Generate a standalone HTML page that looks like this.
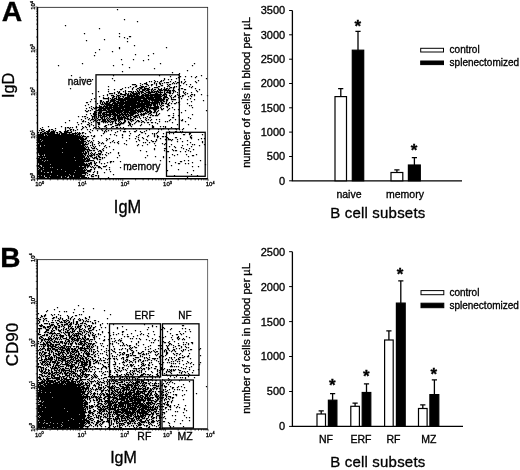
<!DOCTYPE html>
<html><head><meta charset="utf-8"><title>Figure</title>
<style>html,body{margin:0;padding:0;background:#fff}svg{display:block}</style>
</head><body>
<svg width="520" height="470" viewBox="0 0 520 470" font-family='"Liberation Sans", Arial, Helvetica, sans-serif' fill="#000" stroke="#000" stroke-width="0.32"><rect width="520" height="470" fill="#fff" stroke="none"/><defs><filter id="soft" x="0" y="0" width="520" height="470" filterUnits="userSpaceOnUse"><feGaussianBlur stdDeviation="0.55"/></filter></defs><path d="M117 9h1.25M124 19h1.25M137 21h1.25M65 25h1.25M99 28h1.25M84 33h1.25M119 33h1.25M119 36h1.25M129 36h2.25M124 37h1.25M127 38h1.25M104 39h1.25M86 40h1.25M127 41h1.25M134 45h1.25M119 47h1.25M166 47h1.25M119 48h1.25M99 49h1.25M112 51h1.25M95 52h1.25M153 53h1.25M135 54h1.25M94 55h1.25M148 55h1.25M121 59h1.25M133 59h1.25M148 59h1.25M143 60h1.25M82 63h1.25M160 63h1.25M194 63h1.25M122 64h1.25M58 65h1.25M113 65h1.25M192 65h1.25M129 67h1.25M154 68h1.25M187 70h1.25M122 71h1.25M172 72h1.25M179 73h1.25M178 74h1.25M71 75h1.25M113 75h1.25M159 75h1.25M201 75h1.25M170 76h1.25M180 76h1.25M185 76h1.25M191 76h1.25M196 76h1.25M178 77h1.25M195 77h1.25M112 78h1.25M164 78h1.25M176 78h1.25M206 78h1.25M83 79h1.25M92 79h1.25M164 79h1.25M168 79h1.25M171 79h1.25M184 79h1.25M114 80h1.25M154 80h1.25M161 80h1.25M163 80h1.25M198 80h1.25M149 81h1.25M151 81h1.25M155 81h1.25M157 81h1.25M160 81h2.25M170 81h1.25M175 81h1.25M181 81h1.25M185 81h1.25M195 81h1.25M146 82h1.25M154 82h1.25M159 82h1.25M164 82h1.25M166 82h3.25M173 82h1.25M177 82h2.25M181 82h1.25M184 82h1.25M196 82h1.25M140 83h1.25M144 83h3.25M154 83h1.25M156 83h1.25M159 83h2.25M162 83h1.25M172 83h1.25M174 83h1.25M176 83h1.25M183 83h1.25M132 84h4.25M142 84h1.25M146 84h2.25M151 84h2.25M156 84h1.25M160 84h1.25M167 84h1.25M169 84h2.25M186 84h1.25M190 84h1.25M136 85h1.25M140 85h1.25M148 85h1.25M151 85h1.25M156 85h1.25M161 85h2.25M168 85h1.25M180 85h1.25M108 86h1.25M130 86h1.25M135 86h2.25M141 86h3.25M145 86h2.25M158 86h2.25M167 86h1.25M169 86h1.25M174 86h1.25M176 86h1.25M189 86h1.25M192 86h1.25M125 87h1.25M128 87h1.25M133 87h1.25M139 87h4.25M144 87h1.25M149 87h1.25M154 87h4.25M164 87h1.25M170 87h2.25M173 87h2.25M191 87h1.25M70 88h1.25M122 88h1.25M132 88h1.25M137 88h2.25M140 88h2.25M144 88h5.25M152 88h1.25M158 88h1.25M161 88h1.25M164 88h1.25M166 88h2.25M169 88h1.25M173 88h1.25M179 88h1.25M181 88h2.25M195 88h1.25M108 89h1.25M114 89h1.25M120 89h2.25M132 89h1.25M136 89h1.25M139 89h1.25M142 89h4.25M147 89h3.25M151 89h2.25M154 89h2.25M158 89h4.25M163 89h4.25M168 89h1.25M173 89h1.25M178 89h1.25M184 89h2.25M199 89h1.25M125 90h1.25M137 90h1.25M139 90h1.25M142 90h3.25M146 90h3.25M151 90h1.25M153 90h1.25M157 90h1.25M159 90h4.25M164 90h7.25M172 90h3.25M179 90h1.25M196 90h1.25M98 91h1.25M108 91h1.25M117 91h1.25M119 91h1.25M123 91h1.25M125 91h1.25M128 91h4.25M133 91h1.25M135 91h1.25M137 91h2.25M140 91h3.25M145 91h1.25M148 91h2.25M151 91h2.25M154 91h5.25M160 91h1.25M164 91h1.25M167 91h1.25M169 91h2.25M173 91h1.25M175 91h1.25M183 91h1.25M197 91h1.25M114 92h1.25M118 92h2.25M125 92h1.25M131 92h3.25M136 92h1.25M138 92h2.25M141 92h3.25M146 92h9.25M156 92h1.25M158 92h5.25M164 92h1.25M166 92h5.25M173 92h1.25M177 92h1.25M183 92h1.25M185 92h1.25M191 92h1.25M92 93h1.25M109 93h4.25M114 93h1.25M118 93h1.25M120 93h2.25M125 93h2.25M128 93h1.25M130 93h1.25M132 93h8.25M141 93h1.25M144 93h2.25M148 93h3.25M155 93h3.25M160 93h1.25M164 93h2.25M169 93h2.25M172 93h1.25M184 93h1.25M187 93h1.25M107 94h1.25M116 94h1.25M120 94h6.25M127 94h2.25M130 94h2.25M133 94h5.25M139 94h1.25M142 94h2.25M145 94h4.25M150 94h12.25M163 94h4.25M177 94h1.25M179 94h1.25M185 94h1.25M191 94h2.25M194 94h1.25M201 94h1.25M103 95h1.25M107 95h1.25M111 95h3.25M117 95h3.25M124 95h2.25M127 95h8.25M136 95h3.25M141 95h20.25M162 95h3.25M166 95h1.25M169 95h1.25M171 95h1.25M175 95h1.25M178 95h1.25M182 95h2.25M190 95h1.25M194 95h1.25M207 95h1.25M99 96h1.25M113 96h2.25M116 96h1.25M118 96h1.25M120 96h1.25M122 96h2.25M127 96h17.25M145 96h4.25M150 96h3.25M154 96h8.25M164 96h3.25M170 96h1.25M174 96h2.25M180 96h1.25M182 96h1.25M188 96h1.25M191 96h1.25M103 97h1.25M108 97h1.25M112 97h2.25M116 97h1.25M118 97h2.25M123 97h1.25M125 97h5.25M131 97h2.25M134 97h11.25M146 97h15.25M163 97h5.25M171 97h1.25M173 97h1.25M178 97h1.25M94 98h1.25M103 98h6.25M110 98h1.25M112 98h1.25M114 98h3.25M118 98h5.25M124 98h30.25M155 98h7.25M163 98h2.25M168 98h1.25M171 98h1.25M181 98h1.25M190 98h1.25M91 99h1.25M108 99h1.25M111 99h4.25M116 99h25.25M143 99h4.25M148 99h17.25M166 99h2.25M171 99h5.25M187 99h1.25M194 99h1.25M100 100h2.25M108 100h1.25M110 100h6.25M118 100h8.25M127 100h21.25M149 100h1.25M151 100h13.25M166 100h2.25M203 100h1.25M90 101h1.25M95 101h1.25M100 101h2.25M103 101h1.25M106 101h3.25M110 101h5.25M116 101h3.25M120 101h4.25M125 101h12.25M138 101h12.25M152 101h1.25M154 101h5.25M160 101h2.25M163 101h2.25M166 101h1.25M172 101h1.25M179 101h1.25M191 101h1.25M86 102h2.25M100 102h1.25M102 102h1.25M104 102h1.25M106 102h2.25M109 102h2.25M113 102h3.25M117 102h23.25M141 102h2.25M144 102h16.25M161 102h2.25M166 102h1.25M169 102h1.25M176 102h1.25M178 102h1.25M97 103h1.25M100 103h1.25M102 103h1.25M104 103h6.25M112 103h38.25M151 103h7.25M159 103h1.25M161 103h3.25M165 103h2.25M168 103h1.25M171 103h1.25M174 103h2.25M187 103h1.25M88 104h1.25M101 104h3.25M105 104h8.25M114 104h4.25M119 104h5.25M125 104h11.25M137 104h15.25M153 104h3.25M157 104h1.25M159 104h1.25M161 104h1.25M167 104h2.25M179 104h1.25M85 105h1.25M99 105h1.25M104 105h1.25M106 105h17.25M124 105h21.25M146 105h6.25M153 105h3.25M157 105h1.25M160 105h1.25M162 105h2.25M168 105h2.25M189 105h1.25M191 105h1.25M91 106h1.25M96 106h1.25M99 106h3.25M103 106h5.25M109 106h3.25M113 106h5.25M119 106h11.25M131 106h18.25M150 106h1.25M154 106h5.25M161 106h1.25M166 106h2.25M89 107h1.25M93 107h1.25M95 107h9.25M105 107h35.25M141 107h4.25M146 107h13.25M160 107h1.25M167 107h1.25M172 107h1.25M192 107h1.25M86 108h1.25M91 108h1.25M94 108h3.25M99 108h13.25M113 108h11.25M125 108h11.25M137 108h1.25M140 108h6.25M147 108h1.25M149 108h10.25M161 108h1.25M163 108h1.25M169 108h1.25M92 109h1.25M98 109h4.25M103 109h3.25M107 109h3.25M111 109h10.25M122 109h12.25M135 109h2.25M138 109h5.25M144 109h4.25M149 109h1.25M153 109h4.25M161 109h2.25M168 109h1.25M174 109h1.25M178 109h1.25M85 110h1.25M88 110h1.25M90 110h1.25M96 110h11.25M108 110h35.25M144 110h4.25M149 110h2.25M154 110h2.25M158 110h1.25M167 110h1.25M185 110h1.25M206 110h1.25M86 111h2.25M94 111h2.25M99 111h3.25M106 111h17.25M124 111h5.25M130 111h6.25M137 111h7.25M146 111h6.25M154 111h2.25M157 111h1.25M94 112h3.25M98 112h4.25M103 112h12.25M116 112h6.25M123 112h14.25M138 112h1.25M140 112h1.25M145 112h1.25M147 112h2.25M150 112h2.25M153 112h2.25M156 112h1.25M181 112h1.25M90 113h1.25M93 113h3.25M98 113h3.25M102 113h3.25M106 113h1.25M109 113h2.25M112 113h4.25M117 113h3.25M121 113h2.25M124 113h2.25M127 113h1.25M129 113h7.25M137 113h1.25M141 113h1.25M143 113h4.25M149 113h2.25M156 113h1.25M159 113h1.25M173 113h1.25M86 114h1.25M93 114h4.25M98 114h1.25M100 114h1.25M102 114h16.25M119 114h10.25M130 114h4.25M138 114h1.25M140 114h5.25M148 114h1.25M151 114h1.25M156 114h1.25M158 114h1.25M192 114h1.25M91 115h1.25M94 115h2.25M98 115h4.25M103 115h2.25M106 115h5.25M113 115h8.25M122 115h2.25M125 115h2.25M128 115h5.25M135 115h4.25M141 115h1.25M143 115h1.25M150 115h1.25M152 115h2.25M155 115h3.25M168 115h2.25M173 115h1.25M178 115h1.25M78 116h1.25M82 116h1.25M84 116h2.25M92 116h3.25M96 116h1.25M98 116h1.25M100 116h1.25M102 116h5.25M109 116h2.25M112 116h1.25M114 116h2.25M117 116h3.25M121 116h1.25M123 116h2.25M126 116h3.25M130 116h1.25M133 116h4.25M139 116h1.25M147 116h1.25M87 117h1.25M92 117h1.25M94 117h1.25M96 117h1.25M98 117h1.25M100 117h3.25M104 117h1.25M107 117h1.25M109 117h1.25M113 117h3.25M117 117h9.25M127 117h1.25M130 117h2.25M134 117h2.25M137 117h1.25M139 117h1.25M143 117h1.25M145 117h1.25M149 117h2.25M172 117h2.25M188 117h1.25M85 118h1.25M89 118h1.25M92 118h1.25M94 118h1.25M97 118h1.25M101 118h2.25M104 118h1.25M106 118h1.25M108 118h1.25M110 118h6.25M117 118h6.25M124 118h5.25M130 118h1.25M133 118h1.25M140 118h1.25M146 118h1.25M190 118h1.25M81 119h1.25M88 119h1.25M91 119h3.25M95 119h1.25M98 119h3.25M102 119h4.25M107 119h1.25M109 119h1.25M111 119h6.25M118 119h5.25M124 119h1.25M127 119h6.25M135 119h1.25M145 119h1.25M148 119h1.25M151 119h1.25M156 119h1.25M159 119h1.25M170 119h1.25M175 119h1.25M179 119h1.25M182 119h1.25M69 120h1.25M83 120h1.25M90 120h1.25M94 120h2.25M97 120h1.25M99 120h1.25M102 120h4.25M107 120h2.25M110 120h1.25M114 120h3.25M118 120h2.25M124 120h2.25M130 120h1.25M132 120h2.25M137 120h2.25M141 120h1.25M146 120h1.25M150 120h1.25M169 120h1.25M181 120h2.25M82 121h2.25M85 121h1.25M93 121h1.25M96 121h1.25M101 121h6.25M108 121h2.25M111 121h3.25M115 121h1.25M118 121h1.25M120 121h1.25M124 121h2.25M128 121h1.25M131 121h1.25M136 121h1.25M138 121h2.25M142 121h2.25M159 121h1.25M165 121h1.25M167 121h1.25M185 121h1.25M65 122h1.25M77 122h1.25M88 122h1.25M91 122h1.25M97 122h3.25M103 122h1.25M105 122h1.25M107 122h1.25M110 122h1.25M112 122h1.25M115 122h1.25M119 122h1.25M121 122h1.25M123 122h2.25M128 122h2.25M135 122h1.25M141 122h1.25M144 122h1.25M147 122h2.25M151 122h2.25M155 122h1.25M172 122h1.25M81 123h1.25M89 123h1.25M98 123h2.25M112 123h1.25M115 123h2.25M118 123h1.25M120 123h4.25M129 123h2.25M134 123h1.25M157 123h1.25M78 124h1.25M87 124h2.25M91 124h1.25M98 124h2.25M108 124h1.25M110 124h2.25M117 124h4.25M129 124h2.25M132 124h1.25M141 124h1.25M149 124h1.25M177 124h1.25M188 124h1.25M89 125h1.25M93 125h1.25M105 125h2.25M115 125h3.25M119 125h1.25M128 125h1.25M130 125h1.25M140 125h1.25M152 125h1.25M48 126h1.25M61 126h1.25M76 126h1.25M82 126h1.25M85 126h1.25M89 126h1.25M98 126h1.25M104 126h2.25M112 126h2.25M131 126h1.25M152 126h2.25M160 126h1.25M163 126h1.25M165 126h1.25M42 127h1.25M65 127h1.25M67 127h2.25M70 127h1.25M72 127h1.25M76 127h1.25M83 127h1.25M86 127h1.25M94 127h2.25M99 127h1.25M106 127h1.25M111 127h1.25M116 127h2.25M120 127h1.25M123 127h1.25M152 127h2.25M165 127h1.25M171 127h1.25M40 128h1.25M55 128h1.25M65 128h1.25M69 128h1.25M82 128h1.25M93 128h1.25M102 128h1.25M125 128h1.25M133 128h1.25M135 128h1.25M139 128h1.25M163 128h1.25M175 128h1.25M183 128h1.25M195 128h1.25M41 129h3.25M49 129h1.25M51 129h2.25M65 129h1.25M70 129h2.25M73 129h1.25M77 129h1.25M81 129h1.25M87 129h1.25M90 129h1.25M101 129h1.25M106 129h1.25M124 129h1.25M149 129h1.25M158 129h1.25M161 129h1.25M168 129h1.25M176 129h1.25M179 129h1.25M182 129h1.25M39 130h1.25M41 130h1.25M44 130h1.25M48 130h2.25M53 130h1.25M55 130h1.25M65 130h1.25M67 130h2.25M70 130h1.25M73 130h1.25M75 130h1.25M92 130h1.25M97 130h1.25M102 130h1.25M105 130h1.25M108 130h1.25M111 130h1.25M120 130h1.25M136 130h1.25M146 130h1.25M42 131h2.25M46 131h4.25M51 131h4.25M59 131h2.25M64 131h4.25M71 131h1.25M89 131h1.25M104 131h1.25M106 131h1.25M117 131h1.25M123 131h3.25M129 131h1.25M134 131h2.25M140 131h1.25M144 131h1.25M158 131h1.25M169 131h1.25M175 131h2.25M180 131h1.25M182 131h1.25M38 132h1.25M40 132h2.25M44 132h2.25M47 132h2.25M50 132h5.25M56 132h2.25M60 132h2.25M64 132h8.25M75 132h1.25M77 132h1.25M79 132h1.25M82 132h2.25M90 132h1.25M104 132h1.25M115 132h1.25M141 132h2.25M157 132h1.25M171 132h1.25M181 132h1.25M185 132h1.25M40 133h1.25M42 133h13.25M57 133h1.25M59 133h1.25M61 133h6.25M69 133h1.25M72 133h5.25M78 133h3.25M82 133h1.25M85 133h1.25M103 133h1.25M130 133h1.25M145 133h1.25M152 133h1.25M154 133h1.25M156 133h1.25M163 133h1.25M169 133h1.25M173 133h1.25M189 133h2.25M38 134h6.25M45 134h1.25M47 134h13.25M61 134h13.25M75 134h1.25M77 134h3.25M110 134h1.25M114 134h1.25M122 134h1.25M139 134h1.25M154 134h1.25M183 134h2.25M189 134h1.25M202 134h1.25M38 135h6.25M45 135h2.25M48 135h30.25M79 135h1.25M81 135h1.25M83 135h1.25M91 135h1.25M94 135h1.25M101 135h1.25M116 135h1.25M122 135h1.25M129 135h1.25M138 135h1.25M148 135h1.25M154 135h1.25M157 135h1.25M191 135h1.25M38 136h43.25M82 136h4.25M87 136h2.25M93 136h2.25M136 136h1.25M147 136h1.25M154 136h1.25M157 136h2.25M162 136h2.25M165 136h1.25M190 136h1.25M38 137h45.25M86 137h1.25M122 137h1.25M138 137h1.25M142 137h1.25M157 137h1.25M167 137h1.25M175 137h2.25M190 137h2.25M38 138h46.25M85 138h2.25M92 138h1.25M106 138h1.25M109 138h1.25M129 138h1.25M135 138h1.25M143 138h1.25M160 138h1.25M166 138h1.25M168 138h1.25M180 138h1.25M191 138h1.25M201 138h1.25M204 138h1.25M38 139h2.25M41 139h38.25M80 139h6.25M107 139h1.25M138 139h1.25M146 139h1.25M156 139h1.25M165 139h2.25M168 139h3.25M172 139h1.25M177 139h1.25M198 139h1.25M38 140h4.25M43 140h37.25M81 140h3.25M87 140h1.25M89 140h1.25M93 140h1.25M106 140h1.25M113 140h1.25M126 140h1.25M139 140h1.25M147 140h1.25M151 140h1.25M156 140h1.25M166 140h1.25M171 140h1.25M187 140h1.25M38 141h3.25M42 141h44.25M88 141h1.25M91 141h1.25M98 141h1.25M112 141h1.25M118 141h1.25M136 141h1.25M152 141h2.25M155 141h1.25M177 141h1.25M182 141h1.25M202 141h1.25M38 142h28.25M67 142h17.25M86 142h1.25M90 142h1.25M92 142h1.25M99 142h1.25M102 142h1.25M110 142h1.25M114 142h1.25M117 142h1.25M143 142h1.25M145 142h1.25M149 142h1.25M190 142h1.25M202 142h1.25M39 143h45.25M85 143h1.25M88 143h1.25M92 143h1.25M98 143h1.25M101 143h1.25M103 143h1.25M118 143h1.25M124 143h1.25M154 143h1.25M162 143h1.25M165 143h1.25M38 144h43.25M82 144h6.25M92 144h1.25M94 144h1.25M126 144h1.25M138 144h1.25M147 144h1.25M164 144h1.25M171 144h1.25M187 144h1.25M192 144h1.25M194 144h1.25M204 144h1.25M38 145h2.25M41 145h3.25M45 145h40.25M90 145h1.25M92 145h1.25M99 145h1.25M105 145h1.25M137 145h1.25M142 145h1.25M155 145h1.25M182 145h1.25M199 145h1.25M38 146h2.25M41 146h43.25M85 146h1.25M87 146h1.25M93 146h1.25M95 146h1.25M104 146h1.25M109 146h1.25M169 146h1.25M174 146h1.25M191 146h1.25M38 147h47.25M86 147h1.25M88 147h1.25M91 147h1.25M94 147h1.25M106 147h1.25M175 147h1.25M181 147h1.25M38 148h24.25M63 148h23.25M88 148h1.25M92 148h3.25M96 148h1.25M103 148h1.25M154 148h1.25M164 148h2.25M183 148h1.25M189 148h1.25M38 149h52.25M97 149h1.25M102 149h1.25M113 149h1.25M154 149h1.25M172 149h1.25M186 149h1.25M193 149h1.25M38 150h47.25M87 150h1.25M89 150h3.25M93 150h2.25M99 150h2.25M103 150h1.25M140 150h1.25M164 150h1.25M173 150h1.25M175 150h2.25M188 150h1.25M38 151h46.25M85 151h1.25M87 151h2.25M98 151h1.25M100 151h2.25M146 151h1.25M166 151h3.25M180 151h1.25M185 151h1.25M190 151h1.25M38 152h24.25M63 152h19.25M83 152h1.25M85 152h2.25M88 152h1.25M91 152h1.25M95 152h1.25M101 152h1.25M106 152h1.25M110 152h1.25M118 152h1.25M39 153h48.25M88 153h1.25M90 153h1.25M92 153h1.25M94 153h1.25M98 153h3.25M108 153h1.25M118 153h1.25M39 154h5.25M45 154h38.25M84 154h2.25M88 154h1.25M91 154h1.25M93 154h2.25M96 154h2.25M99 154h2.25M102 154h1.25M105 154h1.25M172 154h1.25M177 154h1.25M186 154h1.25M196 154h1.25M40 155h2.25M43 155h1.25M45 155h39.25M85 155h1.25M87 155h1.25M89 155h4.25M94 155h1.25M98 155h1.25M106 155h1.25M119 155h1.25M147 155h1.25M174 155h1.25M192 155h2.25M38 156h47.25M87 156h2.25M90 156h2.25M96 156h1.25M98 156h2.25M155 156h1.25M163 156h1.25M188 156h1.25M39 157h4.25M44 157h1.25M46 157h28.25M75 157h10.25M86 157h1.25M88 157h1.25M92 157h1.25M94 157h3.25M99 157h2.25M102 157h1.25M104 157h1.25M117 157h1.25M145 157h1.25M163 157h1.25M169 157h1.25M38 158h2.25M41 158h42.25M84 158h4.25M89 158h1.25M93 158h2.25M96 158h2.25M102 158h1.25M38 159h48.25M87 159h3.25M97 159h1.25M99 159h2.25M38 160h4.25M43 160h2.25M46 160h1.25M48 160h27.25M76 160h9.25M86 160h8.25M160 160h1.25M184 160h1.25M188 160h1.25M200 160h1.25M38 161h6.25M45 161h44.25M94 161h1.25M99 161h1.25M110 161h2.25M113 161h1.25M120 161h1.25M169 161h1.25M180 161h2.25M38 162h46.25M90 162h2.25M94 162h1.25M96 162h1.25M99 162h1.25M107 162h1.25M110 162h1.25M175 162h1.25M192 162h1.25M39 163h46.25M86 163h1.25M88 163h4.25M94 163h2.25M101 163h1.25M104 163h1.25M178 163h2.25M185 163h1.25M188 163h1.25M39 164h11.25M51 164h37.25M89 164h1.25M91 164h1.25M95 164h1.25M205 164h1.25M38 165h2.25M42 165h48.25M94 165h1.25M96 165h2.25M106 165h1.25M171 165h1.25M38 166h3.25M42 166h37.25M80 166h2.25M84 166h2.25M87 166h2.25M90 166h1.25M92 166h1.25M98 166h2.25M103 166h3.25M192 166h1.25M198 166h1.25M39 167h4.25M44 167h6.25M51 167h1.25M53 167h33.25M87 167h1.25M91 167h1.25M93 167h1.25M95 167h1.25M98 167h3.25M109 167h1.25M120 167h1.25M38 168h1.25M40 168h44.25M85 168h1.25M94 168h1.25M101 168h1.25M130 168h1.25M39 169h4.25M44 169h13.25M58 169h3.25M62 169h21.25M84 169h1.25M86 169h1.25M90 169h2.25M94 169h1.25M106 169h1.25M109 169h1.25M129 169h1.25M178 169h1.25M38 170h3.25M42 170h33.25M76 170h10.25M87 170h4.25M167 170h1.25M193 170h1.25M38 171h3.25M42 171h9.25M52 171h13.25M66 171h19.25M87 171h4.25M94 171h1.25M97 171h1.25M110 171h1.25M38 172h6.25M45 172h2.25M49 172h2.25M52 172h22.25M75 172h12.25M93 172h1.25M97 172h1.25M104 172h1.25M187 172h1.25M38 173h48.25M87 173h1.25M97 173h1.25M38 174h31.25M70 174h12.25M85 174h1.25M89 174h1.25M92 174h2.25M113 174h1.25M191 174h1.25M39 175h2.25M42 175h2.25M45 175h5.25M51 175h6.25M58 175h12.25M71 175h2.25M74 175h11.25M87 175h1.25M91 175h1.25M95 175h2.25M98 175h1.25M174 175h1.25M197 175h1.25M38 176h6.25M45 176h16.25M62 176h3.25M66 176h2.25M69 176h4.25M74 176h11.25M91 176h3.25M98 176h1.25M39 177h6.25M47 177h2.25M50 177h11.25M62 177h5.25M69 177h11.25M81 177h6.25M88 177h1.25M98 177h1.25M108 177h1.25M187 177h1.25M78 305h1.25M57 307h1.25M83 308h1.25M93 308h1.25M54 309h1.25M74 309h1.25M47 310h1.25M104 310h1.25M46 311h1.25M59 311h1.25M64 311h1.25M66 311h1.25M83 311h1.25M73 312h1.25M38 313h1.25M45 314h1.25M51 314h1.25M54 314h1.25M58 314h1.25M79 314h1.25M81 314h1.25M110 314h1.25M41 315h1.25M44 315h2.25M52 315h1.25M60 315h1.25M67 315h1.25M75 315h2.25M41 316h2.25M44 316h1.25M56 316h1.25M68 316h1.25M72 316h1.25M89 316h1.25M40 317h1.25M53 317h2.25M56 317h1.25M60 317h1.25M68 317h1.25M71 317h1.25M85 317h1.25M89 317h1.25M38 318h1.25M43 318h1.25M45 318h2.25M52 318h2.25M58 318h1.25M60 318h1.25M62 318h1.25M68 318h1.25M70 318h1.25M74 318h1.25M79 318h1.25M85 318h2.25M107 318h1.25M39 319h2.25M44 319h1.25M59 319h1.25M62 319h1.25M66 319h1.25M70 319h1.25M73 319h1.25M78 319h1.25M80 319h1.25M82 319h1.25M88 319h1.25M38 320h1.25M43 320h1.25M46 320h1.25M52 320h1.25M55 320h1.25M57 320h2.25M63 320h3.25M67 320h2.25M73 320h1.25M79 320h2.25M83 320h1.25M86 320h1.25M94 320h2.25M39 321h1.25M43 321h1.25M48 321h1.25M59 321h1.25M61 321h1.25M64 321h1.25M66 321h1.25M69 321h1.25M73 321h1.25M76 321h2.25M83 321h1.25M85 321h1.25M87 321h2.25M90 321h1.25M98 321h1.25M39 322h1.25M51 322h3.25M56 322h1.25M60 322h3.25M64 322h2.25M68 322h2.25M71 322h1.25M73 322h1.25M76 322h2.25M82 322h1.25M92 322h1.25M95 322h1.25M38 323h1.25M44 323h4.25M49 323h1.25M57 323h2.25M66 323h2.25M70 323h2.25M73 323h1.25M76 323h2.25M80 323h3.25M84 323h2.25M92 323h2.25M95 323h1.25M102 323h1.25M107 323h1.25M41 324h1.25M49 324h1.25M51 324h3.25M57 324h1.25M61 324h2.25M64 324h4.25M69 324h3.25M75 324h2.25M78 324h1.25M86 324h1.25M100 324h1.25M113 324h1.25M144 324h1.25M39 325h4.25M50 325h3.25M54 325h1.25M58 325h2.25M62 325h1.25M64 325h1.25M68 325h1.25M70 325h1.25M78 325h1.25M80 325h2.25M84 325h1.25M88 325h2.25M91 325h1.25M100 325h1.25M152 325h1.25M182 325h2.25M40 326h2.25M43 326h2.25M47 326h4.25M54 326h3.25M59 326h1.25M61 326h1.25M63 326h1.25M68 326h3.25M72 326h1.25M75 326h1.25M77 326h4.25M85 326h1.25M87 326h1.25M89 326h1.25M91 326h1.25M95 326h1.25M122 326h1.25M152 326h1.25M156 326h1.25M43 327h3.25M47 327h2.25M50 327h1.25M53 327h1.25M55 327h2.25M58 327h2.25M64 327h1.25M68 327h1.25M71 327h1.25M75 327h1.25M77 327h2.25M80 327h1.25M85 327h1.25M90 327h1.25M93 327h2.25M101 327h1.25M105 327h1.25M117 327h1.25M148 327h1.25M163 327h1.25M38 328h4.25M45 328h1.25M49 328h1.25M52 328h1.25M55 328h2.25M63 328h1.25M66 328h1.25M68 328h1.25M70 328h4.25M76 328h1.25M79 328h1.25M82 328h1.25M88 328h3.25M93 328h1.25M117 328h1.25M164 328h1.25M171 328h1.25M182 328h1.25M185 328h1.25M39 329h1.25M46 329h3.25M52 329h1.25M56 329h1.25M58 329h1.25M61 329h1.25M63 329h1.25M65 329h2.25M69 329h1.25M72 329h2.25M75 329h1.25M79 329h3.25M84 329h1.25M88 329h1.25M92 329h2.25M99 329h1.25M126 329h1.25M147 329h1.25M161 329h1.25M170 329h1.25M189 329h1.25M39 330h1.25M46 330h3.25M51 330h1.25M53 330h2.25M58 330h3.25M63 330h1.25M67 330h2.25M72 330h1.25M74 330h1.25M79 330h1.25M83 330h1.25M85 330h1.25M89 330h3.25M96 330h1.25M135 330h1.25M39 331h1.25M45 331h2.25M51 331h2.25M59 331h2.25M65 331h1.25M67 331h1.25M70 331h1.25M72 331h3.25M77 331h1.25M79 331h3.25M84 331h1.25M86 331h2.25M89 331h1.25M102 331h1.25M122 331h2.25M140 331h1.25M153 331h1.25M167 331h1.25M179 331h1.25M185 331h1.25M190 331h1.25M39 332h1.25M44 332h2.25M47 332h2.25M50 332h2.25M54 332h1.25M61 332h1.25M63 332h1.25M65 332h5.25M71 332h2.25M78 332h1.25M82 332h1.25M84 332h1.25M88 332h1.25M90 332h1.25M92 332h1.25M102 332h1.25M108 332h1.25M113 332h1.25M122 332h1.25M38 333h1.25M49 333h7.25M57 333h3.25M64 333h1.25M68 333h2.25M73 333h1.25M75 333h6.25M82 333h1.25M86 333h1.25M90 333h1.25M93 333h1.25M98 333h1.25M109 333h1.25M118 333h1.25M131 333h1.25M141 333h1.25M148 333h1.25M170 333h1.25M180 333h1.25M183 333h1.25M38 334h3.25M44 334h1.25M46 334h2.25M52 334h1.25M56 334h1.25M60 334h1.25M65 334h1.25M68 334h2.25M72 334h1.25M74 334h1.25M76 334h1.25M78 334h1.25M80 334h2.25M85 334h1.25M88 334h1.25M92 334h1.25M95 334h1.25M98 334h1.25M100 334h1.25M113 334h1.25M116 334h1.25M122 334h1.25M127 334h1.25M140 334h1.25M143 334h1.25M154 334h1.25M176 334h2.25M181 334h1.25M42 335h3.25M46 335h2.25M51 335h1.25M54 335h1.25M56 335h2.25M59 335h5.25M66 335h1.25M68 335h2.25M71 335h1.25M73 335h6.25M82 335h1.25M84 335h1.25M88 335h2.25M92 335h3.25M110 335h1.25M137 335h1.25M147 335h1.25M172 335h1.25M40 336h2.25M49 336h1.25M51 336h1.25M53 336h1.25M60 336h4.25M69 336h3.25M74 336h1.25M76 336h2.25M79 336h1.25M84 336h2.25M89 336h1.25M94 336h1.25M96 336h1.25M104 336h1.25M124 336h1.25M127 336h2.25M133 336h1.25M148 336h1.25M159 336h1.25M165 336h1.25M178 336h1.25M186 336h1.25M39 337h1.25M41 337h2.25M48 337h1.25M50 337h1.25M54 337h1.25M56 337h1.25M58 337h1.25M60 337h1.25M62 337h1.25M66 337h1.25M69 337h2.25M72 337h2.25M77 337h1.25M79 337h1.25M82 337h1.25M84 337h2.25M93 337h2.25M160 337h1.25M163 337h1.25M171 337h1.25M177 337h2.25M189 337h1.25M39 338h2.25M43 338h1.25M45 338h1.25M48 338h4.25M53 338h1.25M55 338h3.25M60 338h1.25M63 338h4.25M69 338h1.25M71 338h2.25M74 338h2.25M77 338h4.25M82 338h2.25M85 338h1.25M87 338h2.25M94 338h1.25M99 338h1.25M111 338h1.25M114 338h1.25M121 338h1.25M130 338h1.25M132 338h1.25M136 338h1.25M139 338h1.25M152 338h1.25M177 338h1.25M179 338h1.25M183 338h1.25M41 339h2.25M44 339h6.25M51 339h2.25M55 339h1.25M57 339h1.25M59 339h1.25M61 339h1.25M66 339h3.25M71 339h4.25M76 339h3.25M81 339h1.25M83 339h2.25M86 339h3.25M90 339h3.25M94 339h1.25M104 339h1.25M108 339h1.25M119 339h1.25M140 339h1.25M146 339h1.25M155 339h1.25M160 339h1.25M172 339h1.25M178 339h1.25M182 339h1.25M184 339h1.25M41 340h2.25M44 340h1.25M48 340h1.25M50 340h2.25M54 340h1.25M65 340h1.25M68 340h2.25M72 340h1.25M74 340h5.25M80 340h1.25M84 340h2.25M89 340h1.25M103 340h2.25M115 340h1.25M118 340h1.25M120 340h2.25M149 340h1.25M154 340h1.25M158 340h1.25M38 341h1.25M41 341h1.25M45 341h1.25M47 341h1.25M49 341h1.25M52 341h1.25M54 341h3.25M58 341h1.25M60 341h3.25M65 341h1.25M67 341h3.25M71 341h1.25M73 341h1.25M77 341h1.25M80 341h6.25M89 341h1.25M91 341h1.25M95 341h1.25M109 341h1.25M112 341h1.25M114 341h1.25M120 341h1.25M131 341h1.25M138 341h1.25M162 341h2.25M169 341h1.25M174 341h1.25M40 342h1.25M43 342h1.25M46 342h5.25M53 342h2.25M56 342h3.25M60 342h3.25M64 342h1.25M66 342h1.25M69 342h1.25M72 342h1.25M75 342h1.25M79 342h3.25M84 342h1.25M86 342h2.25M96 342h1.25M116 342h1.25M122 342h1.25M138 342h1.25M151 342h1.25M153 342h1.25M162 342h1.25M164 342h2.25M168 342h1.25M183 342h1.25M186 342h1.25M191 342h2.25M38 343h1.25M43 343h2.25M46 343h2.25M50 343h2.25M59 343h1.25M62 343h1.25M64 343h3.25M68 343h1.25M70 343h3.25M75 343h2.25M78 343h1.25M80 343h3.25M84 343h2.25M88 343h4.25M93 343h2.25M100 343h1.25M102 343h1.25M110 343h1.25M112 343h1.25M118 343h1.25M123 343h1.25M136 343h1.25M169 343h2.25M178 343h1.25M188 343h1.25M192 343h1.25M40 344h6.25M47 344h2.25M50 344h4.25M55 344h5.25M65 344h1.25M68 344h1.25M70 344h2.25M76 344h1.25M78 344h4.25M83 344h2.25M86 344h1.25M88 344h1.25M90 344h1.25M92 344h2.25M109 344h1.25M112 344h1.25M123 344h1.25M126 344h1.25M136 344h1.25M143 344h1.25M169 344h1.25M171 344h1.25M183 344h1.25M185 344h1.25M188 344h1.25M43 345h1.25M45 345h1.25M47 345h4.25M52 345h2.25M55 345h2.25M60 345h1.25M63 345h3.25M71 345h1.25M82 345h3.25M87 345h1.25M89 345h1.25M92 345h1.25M95 345h1.25M101 345h1.25M107 345h1.25M120 345h1.25M122 345h1.25M124 345h1.25M127 345h1.25M129 345h2.25M138 345h1.25M150 345h1.25M158 345h2.25M161 345h1.25M166 345h1.25M168 345h1.25M173 345h1.25M178 345h2.25M39 346h1.25M41 346h1.25M43 346h2.25M47 346h2.25M50 346h6.25M58 346h1.25M61 346h2.25M64 346h1.25M66 346h5.25M73 346h2.25M76 346h3.25M82 346h1.25M86 346h4.25M91 346h1.25M93 346h1.25M97 346h1.25M103 346h1.25M113 346h1.25M129 346h1.25M134 346h1.25M148 346h1.25M167 346h1.25M175 346h1.25M181 346h1.25M185 346h1.25M43 347h1.25M48 347h1.25M51 347h2.25M55 347h3.25M59 347h6.25M66 347h1.25M68 347h1.25M70 347h1.25M76 347h1.25M78 347h1.25M80 347h3.25M84 347h1.25M87 347h1.25M89 347h1.25M91 347h2.25M97 347h1.25M130 347h1.25M132 347h1.25M135 347h2.25M145 347h1.25M167 347h1.25M173 347h1.25M181 347h1.25M186 347h1.25M188 347h1.25M40 348h1.25M42 348h3.25M47 348h4.25M52 348h3.25M58 348h1.25M60 348h1.25M62 348h4.25M67 348h3.25M71 348h2.25M74 348h2.25M78 348h11.25M90 348h1.25M97 348h1.25M106 348h1.25M114 348h1.25M122 348h1.25M125 348h1.25M129 348h1.25M131 348h1.25M150 348h1.25M158 348h1.25M161 348h1.25M167 348h2.25M176 348h1.25M179 348h1.25M200 348h1.25M39 349h1.25M41 349h2.25M45 349h1.25M47 349h2.25M50 349h1.25M52 349h6.25M59 349h4.25M65 349h5.25M71 349h5.25M77 349h1.25M80 349h2.25M84 349h2.25M89 349h1.25M91 349h1.25M93 349h2.25M101 349h1.25M111 349h1.25M114 349h1.25M119 349h1.25M121 349h1.25M127 349h1.25M130 349h1.25M145 349h1.25M148 349h1.25M155 349h1.25M160 349h1.25M165 349h1.25M168 349h1.25M173 349h2.25M183 349h1.25M185 349h1.25M190 349h2.25M199 349h1.25M38 350h1.25M40 350h1.25M45 350h1.25M47 350h3.25M51 350h1.25M55 350h3.25M61 350h4.25M66 350h4.25M72 350h1.25M74 350h4.25M80 350h4.25M85 350h2.25M89 350h1.25M91 350h1.25M97 350h1.25M106 350h1.25M108 350h1.25M112 350h1.25M127 350h1.25M131 350h2.25M136 350h1.25M153 350h1.25M164 350h1.25M166 350h1.25M169 350h1.25M172 350h1.25M174 350h1.25M181 350h1.25M183 350h1.25M188 350h1.25M42 351h2.25M49 351h1.25M51 351h2.25M55 351h1.25M57 351h3.25M61 351h1.25M63 351h1.25M66 351h2.25M69 351h1.25M71 351h4.25M76 351h3.25M84 351h2.25M87 351h1.25M89 351h1.25M91 351h1.25M93 351h1.25M95 351h1.25M98 351h1.25M104 351h1.25M113 351h2.25M127 351h1.25M133 351h1.25M142 351h2.25M148 351h2.25M151 351h1.25M154 351h1.25M156 351h2.25M164 351h1.25M166 351h1.25M171 351h1.25M175 351h1.25M182 351h1.25M39 352h2.25M42 352h1.25M44 352h3.25M49 352h1.25M51 352h1.25M53 352h1.25M58 352h1.25M60 352h5.25M67 352h2.25M70 352h1.25M72 352h2.25M75 352h2.25M78 352h1.25M81 352h1.25M84 352h1.25M86 352h1.25M88 352h1.25M93 352h2.25M106 352h1.25M115 352h1.25M119 352h2.25M123 352h2.25M132 352h2.25M138 352h1.25M141 352h1.25M150 352h1.25M155 352h1.25M162 352h1.25M166 352h2.25M39 353h1.25M41 353h1.25M44 353h2.25M48 353h2.25M53 353h1.25M55 353h2.25M58 353h3.25M62 353h1.25M65 353h1.25M67 353h2.25M70 353h2.25M74 353h1.25M78 353h2.25M83 353h1.25M85 353h5.25M93 353h1.25M97 353h1.25M100 353h1.25M102 353h1.25M111 353h1.25M122 353h1.25M124 353h1.25M130 353h1.25M132 353h1.25M138 353h3.25M143 353h1.25M146 353h1.25M148 353h1.25M158 353h1.25M166 353h2.25M173 353h1.25M176 353h2.25M180 353h1.25M189 353h1.25M39 354h1.25M41 354h1.25M43 354h2.25M49 354h2.25M53 354h1.25M56 354h4.25M62 354h2.25M66 354h1.25M70 354h1.25M72 354h3.25M76 354h1.25M78 354h2.25M83 354h1.25M86 354h4.25M91 354h2.25M95 354h1.25M106 354h1.25M109 354h1.25M117 354h1.25M120 354h1.25M122 354h2.25M126 354h3.25M132 354h1.25M142 354h3.25M146 354h1.25M155 354h1.25M157 354h1.25M166 354h1.25M174 354h1.25M179 354h1.25M40 355h1.25M42 355h1.25M45 355h5.25M53 355h3.25M58 355h2.25M61 355h1.25M63 355h1.25M66 355h1.25M69 355h3.25M75 355h4.25M80 355h2.25M83 355h1.25M87 355h2.25M94 355h1.25M98 355h1.25M107 355h1.25M112 355h1.25M119 355h1.25M126 355h1.25M128 355h1.25M130 355h2.25M133 355h3.25M140 355h1.25M149 355h1.25M156 355h1.25M161 355h2.25M165 355h1.25M176 355h1.25M182 355h1.25M188 355h1.25M200 355h1.25M41 356h1.25M43 356h1.25M45 356h2.25M49 356h1.25M51 356h1.25M54 356h1.25M56 356h1.25M60 356h1.25M62 356h4.25M67 356h2.25M70 356h4.25M75 356h1.25M77 356h2.25M81 356h1.25M83 356h2.25M87 356h4.25M94 356h2.25M109 356h1.25M112 356h1.25M114 356h1.25M116 356h1.25M127 356h2.25M140 356h1.25M142 356h1.25M159 356h1.25M162 356h2.25M184 356h1.25M187 356h2.25M39 357h1.25M41 357h1.25M45 357h1.25M48 357h1.25M50 357h3.25M54 357h1.25M56 357h4.25M61 357h1.25M63 357h3.25M69 357h4.25M74 357h2.25M77 357h1.25M79 357h2.25M82 357h1.25M85 357h2.25M91 357h2.25M98 357h1.25M103 357h1.25M122 357h2.25M126 357h2.25M135 357h4.25M144 357h1.25M146 357h1.25M149 357h1.25M159 357h1.25M169 357h1.25M171 357h1.25M174 357h1.25M179 357h2.25M182 357h2.25M38 358h1.25M41 358h1.25M45 358h2.25M48 358h5.25M56 358h1.25M58 358h6.25M65 358h4.25M71 358h1.25M73 358h1.25M75 358h3.25M80 358h4.25M85 358h2.25M88 358h1.25M92 358h1.25M100 358h1.25M105 358h1.25M108 358h1.25M110 358h1.25M113 358h2.25M116 358h1.25M121 358h1.25M123 358h1.25M133 358h1.25M144 358h1.25M147 358h1.25M152 358h4.25M157 358h1.25M166 358h1.25M171 358h1.25M178 358h1.25M190 358h1.25M41 359h2.25M44 359h9.25M54 359h1.25M56 359h1.25M58 359h1.25M61 359h5.25M70 359h4.25M75 359h1.25M78 359h1.25M80 359h1.25M82 359h2.25M86 359h2.25M90 359h1.25M92 359h2.25M95 359h1.25M100 359h1.25M107 359h1.25M114 359h1.25M117 359h1.25M123 359h1.25M126 359h2.25M134 359h2.25M139 359h2.25M148 359h2.25M154 359h1.25M160 359h1.25M162 359h1.25M165 359h1.25M168 359h1.25M172 359h1.25M176 359h1.25M178 359h2.25M39 360h3.25M44 360h1.25M46 360h1.25M50 360h2.25M55 360h2.25M58 360h3.25M62 360h4.25M67 360h4.25M73 360h2.25M76 360h5.25M83 360h2.25M86 360h1.25M88 360h2.25M94 360h2.25M97 360h1.25M99 360h1.25M101 360h1.25M103 360h2.25M125 360h1.25M127 360h1.25M129 360h1.25M133 360h1.25M138 360h1.25M140 360h1.25M143 360h1.25M145 360h1.25M147 360h1.25M151 360h1.25M156 360h1.25M168 360h1.25M175 360h1.25M182 360h1.25M42 361h4.25M47 361h2.25M50 361h1.25M52 361h4.25M57 361h1.25M61 361h2.25M65 361h3.25M69 361h1.25M71 361h2.25M76 361h3.25M80 361h3.25M84 361h1.25M86 361h2.25M89 361h2.25M93 361h1.25M96 361h2.25M109 361h1.25M114 361h1.25M123 361h1.25M126 361h1.25M130 361h2.25M135 361h1.25M138 361h1.25M142 361h2.25M158 361h1.25M160 361h1.25M171 361h1.25M173 361h1.25M177 361h1.25M179 361h1.25M187 361h1.25M40 362h1.25M42 362h3.25M46 362h1.25M49 362h2.25M52 362h4.25M57 362h3.25M62 362h1.25M65 362h1.25M67 362h2.25M70 362h1.25M72 362h1.25M74 362h3.25M79 362h1.25M81 362h7.25M89 362h2.25M95 362h2.25M98 362h1.25M104 362h2.25M107 362h1.25M109 362h1.25M115 362h1.25M122 362h3.25M129 362h1.25M132 362h1.25M135 362h1.25M141 362h1.25M149 362h1.25M151 362h1.25M163 362h1.25M167 362h1.25M169 362h1.25M188 362h1.25M191 362h1.25M200 362h1.25M38 363h1.25M41 363h2.25M45 363h1.25M47 363h1.25M49 363h1.25M54 363h1.25M56 363h3.25M61 363h1.25M65 363h3.25M69 363h1.25M71 363h1.25M75 363h2.25M78 363h1.25M81 363h2.25M84 363h3.25M89 363h2.25M93 363h2.25M98 363h1.25M100 363h1.25M115 363h1.25M119 363h1.25M142 363h2.25M149 363h1.25M159 363h1.25M171 363h1.25M173 363h1.25M175 363h1.25M179 363h1.25M186 363h1.25M190 363h1.25M38 364h1.25M41 364h2.25M44 364h1.25M46 364h5.25M53 364h1.25M56 364h2.25M60 364h1.25M62 364h7.25M71 364h4.25M78 364h1.25M81 364h7.25M89 364h2.25M102 364h1.25M108 364h1.25M113 364h3.25M123 364h1.25M127 364h1.25M130 364h2.25M133 364h1.25M141 364h1.25M143 364h1.25M145 364h1.25M148 364h1.25M152 364h1.25M160 364h3.25M183 364h1.25M193 364h1.25M199 364h1.25M43 365h1.25M45 365h1.25M47 365h1.25M50 365h1.25M53 365h1.25M55 365h5.25M66 365h7.25M74 365h1.25M78 365h1.25M80 365h3.25M84 365h3.25M89 365h2.25M103 365h1.25M124 365h1.25M126 365h1.25M130 365h3.25M138 365h1.25M142 365h3.25M148 365h2.25M171 365h1.25M38 366h3.25M48 366h1.25M52 366h2.25M55 366h1.25M58 366h1.25M60 366h4.25M66 366h1.25M68 366h1.25M70 366h4.25M75 366h1.25M77 366h1.25M82 366h3.25M88 366h2.25M92 366h1.25M94 366h1.25M103 366h3.25M108 366h1.25M114 366h1.25M117 366h1.25M128 366h1.25M131 366h1.25M134 366h1.25M141 366h1.25M155 366h2.25M160 366h1.25M170 366h3.25M174 366h1.25M176 366h1.25M178 366h1.25M186 366h1.25M191 366h1.25M38 367h1.25M40 367h4.25M46 367h1.25M50 367h1.25M52 367h1.25M54 367h3.25M58 367h2.25M65 367h1.25M70 367h3.25M75 367h3.25M79 367h3.25M83 367h2.25M88 367h1.25M90 367h2.25M95 367h1.25M102 367h1.25M105 367h2.25M119 367h1.25M122 367h2.25M140 367h1.25M146 367h1.25M148 367h1.25M151 367h1.25M161 367h1.25M181 367h1.25M189 367h1.25M41 368h1.25M43 368h1.25M45 368h1.25M51 368h7.25M60 368h1.25M62 368h2.25M65 368h4.25M70 368h2.25M75 368h2.25M78 368h1.25M83 368h4.25M88 368h1.25M97 368h2.25M101 368h1.25M106 368h1.25M114 368h2.25M119 368h1.25M122 368h1.25M127 368h1.25M133 368h4.25M138 368h2.25M141 368h1.25M143 368h2.25M148 368h2.25M154 368h2.25M161 368h1.25M164 368h1.25M183 368h1.25M185 368h1.25M39 369h1.25M41 369h1.25M43 369h1.25M45 369h2.25M48 369h1.25M51 369h1.25M54 369h1.25M57 369h1.25M59 369h1.25M61 369h4.25M69 369h1.25M71 369h1.25M73 369h3.25M80 369h2.25M83 369h5.25M89 369h1.25M92 369h1.25M94 369h1.25M101 369h1.25M117 369h1.25M123 369h1.25M125 369h1.25M136 369h1.25M142 369h1.25M144 369h1.25M148 369h1.25M157 369h1.25M161 369h1.25M163 369h1.25M167 369h1.25M169 369h1.25M171 369h1.25M173 369h1.25M175 369h1.25M178 369h1.25M189 369h1.25M198 369h1.25M39 370h1.25M41 370h2.25M45 370h1.25M48 370h2.25M51 370h1.25M54 370h3.25M58 370h2.25M61 370h9.25M71 370h1.25M75 370h1.25M77 370h1.25M79 370h2.25M82 370h1.25M85 370h2.25M89 370h1.25M110 370h1.25M115 370h1.25M118 370h2.25M121 370h1.25M126 370h1.25M130 370h1.25M132 370h1.25M134 370h1.25M136 370h1.25M139 370h1.25M141 370h1.25M157 370h1.25M159 370h1.25M167 370h1.25M170 370h2.25M173 370h2.25M179 370h2.25M193 370h1.25M40 371h3.25M44 371h2.25M48 371h1.25M51 371h2.25M56 371h1.25M59 371h1.25M61 371h1.25M63 371h1.25M65 371h1.25M69 371h5.25M75 371h1.25M77 371h1.25M80 371h1.25M82 371h3.25M86 371h1.25M88 371h1.25M90 371h2.25M95 371h1.25M99 371h1.25M101 371h1.25M105 371h1.25M107 371h1.25M110 371h1.25M116 371h1.25M120 371h1.25M130 371h1.25M133 371h2.25M137 371h2.25M141 371h1.25M145 371h1.25M151 371h1.25M157 371h1.25M166 371h1.25M168 371h2.25M171 371h1.25M182 371h1.25M184 371h1.25M187 371h1.25M41 372h1.25M43 372h2.25M46 372h2.25M49 372h1.25M51 372h2.25M54 372h5.25M60 372h2.25M64 372h2.25M67 372h2.25M71 372h1.25M73 372h2.25M81 372h3.25M94 372h1.25M103 372h1.25M109 372h2.25M114 372h1.25M117 372h1.25M127 372h1.25M129 372h1.25M132 372h1.25M139 372h1.25M141 372h1.25M152 372h1.25M159 372h1.25M166 372h1.25M170 372h1.25M179 372h1.25M181 372h1.25M185 372h1.25M192 372h1.25M42 373h1.25M44 373h3.25M48 373h3.25M52 373h3.25M56 373h1.25M59 373h2.25M62 373h1.25M64 373h4.25M69 373h2.25M72 373h5.25M80 373h1.25M82 373h2.25M85 373h1.25M94 373h1.25M102 373h1.25M126 373h1.25M130 373h1.25M133 373h1.25M135 373h1.25M143 373h2.25M157 373h1.25M160 373h1.25M164 373h1.25M171 373h1.25M181 373h1.25M188 373h1.25M39 374h3.25M48 374h2.25M51 374h2.25M55 374h1.25M57 374h2.25M62 374h1.25M65 374h2.25M69 374h1.25M71 374h1.25M75 374h1.25M77 374h1.25M80 374h1.25M82 374h8.25M93 374h1.25M95 374h1.25M104 374h2.25M110 374h1.25M116 374h2.25M121 374h1.25M124 374h1.25M126 374h3.25M130 374h2.25M133 374h1.25M137 374h1.25M141 374h3.25M145 374h1.25M147 374h2.25M150 374h1.25M156 374h2.25M160 374h1.25M166 374h1.25M177 374h1.25M184 374h1.25M189 374h1.25M41 375h2.25M44 375h1.25M47 375h1.25M51 375h4.25M57 375h1.25M59 375h1.25M65 375h5.25M71 375h1.25M73 375h1.25M75 375h1.25M77 375h3.25M81 375h2.25M85 375h2.25M88 375h1.25M91 375h1.25M94 375h1.25M96 375h1.25M101 375h1.25M112 375h1.25M117 375h1.25M119 375h2.25M125 375h1.25M128 375h1.25M132 375h1.25M140 375h3.25M149 375h1.25M152 375h1.25M157 375h2.25M167 375h1.25M173 375h1.25M39 376h1.25M42 376h2.25M45 376h2.25M48 376h2.25M51 376h1.25M53 376h2.25M59 376h2.25M62 376h3.25M67 376h1.25M69 376h1.25M73 376h2.25M76 376h1.25M78 376h3.25M82 376h1.25M84 376h1.25M86 376h2.25M92 376h1.25M94 376h2.25M97 376h1.25M108 376h1.25M110 376h2.25M114 376h1.25M117 376h1.25M122 376h1.25M125 376h3.25M131 376h1.25M138 376h3.25M144 376h1.25M150 376h3.25M157 376h1.25M160 376h1.25M170 376h1.25M176 376h1.25M188 376h1.25M38 377h3.25M47 377h1.25M51 377h2.25M54 377h6.25M61 377h1.25M63 377h1.25M66 377h1.25M69 377h3.25M77 377h1.25M80 377h2.25M85 377h2.25M91 377h1.25M93 377h1.25M95 377h2.25M104 377h3.25M110 377h1.25M112 377h1.25M114 377h1.25M120 377h1.25M122 377h1.25M126 377h1.25M129 377h1.25M132 377h3.25M138 377h2.25M147 377h1.25M152 377h1.25M155 377h1.25M159 377h1.25M174 377h1.25M180 377h1.25M182 377h1.25M185 377h1.25M194 377h1.25M39 378h2.25M43 378h1.25M46 378h5.25M52 378h8.25M61 378h1.25M63 378h4.25M70 378h1.25M72 378h2.25M77 378h2.25M80 378h1.25M89 378h1.25M92 378h1.25M98 378h1.25M101 378h1.25M103 378h1.25M111 378h1.25M114 378h1.25M119 378h2.25M124 378h1.25M126 378h2.25M129 378h1.25M132 378h1.25M135 378h1.25M137 378h1.25M144 378h1.25M152 378h1.25M168 378h1.25M185 378h1.25M40 379h2.25M43 379h2.25M46 379h3.25M56 379h4.25M61 379h2.25M64 379h7.25M72 379h2.25M75 379h3.25M80 379h6.25M87 379h2.25M91 379h1.25M99 379h1.25M107 379h1.25M109 379h1.25M112 379h2.25M116 379h1.25M119 379h1.25M121 379h3.25M128 379h1.25M132 379h1.25M135 379h1.25M137 379h3.25M141 379h1.25M144 379h1.25M146 379h3.25M150 379h2.25M162 379h1.25M169 379h1.25M181 379h1.25M38 380h1.25M42 380h1.25M44 380h2.25M47 380h6.25M54 380h2.25M57 380h1.25M60 380h2.25M63 380h2.25M66 380h3.25M71 380h2.25M76 380h1.25M79 380h3.25M89 380h1.25M94 380h1.25M97 380h1.25M103 380h1.25M107 380h1.25M109 380h1.25M112 380h1.25M114 380h2.25M120 380h1.25M124 380h1.25M126 380h1.25M128 380h2.25M135 380h1.25M137 380h1.25M141 380h3.25M148 380h1.25M152 380h1.25M155 380h2.25M164 380h1.25M168 380h1.25M171 380h1.25M179 380h1.25M41 381h4.25M46 381h10.25M58 381h2.25M61 381h9.25M71 381h5.25M77 381h3.25M82 381h1.25M87 381h1.25M90 381h4.25M95 381h1.25M98 381h1.25M100 381h1.25M104 381h1.25M106 381h1.25M108 381h1.25M111 381h1.25M113 381h1.25M115 381h3.25M121 381h2.25M124 381h1.25M130 381h1.25M132 381h1.25M136 381h4.25M141 381h3.25M148 381h1.25M165 381h1.25M170 381h1.25M189 381h1.25M38 382h7.25M46 382h2.25M49 382h5.25M55 382h5.25M61 382h5.25M67 382h7.25M75 382h1.25M77 382h1.25M79 382h1.25M81 382h1.25M83 382h1.25M85 382h1.25M88 382h1.25M91 382h1.25M97 382h1.25M99 382h1.25M101 382h3.25M107 382h1.25M114 382h1.25M118 382h5.25M126 382h2.25M129 382h1.25M131 382h1.25M133 382h1.25M135 382h5.25M141 382h1.25M143 382h4.25M150 382h1.25M155 382h1.25M167 382h1.25M169 382h1.25M172 382h1.25M39 383h4.25M44 383h7.25M53 383h5.25M59 383h5.25M65 383h11.25M78 383h1.25M80 383h4.25M85 383h3.25M89 383h1.25M91 383h1.25M96 383h3.25M104 383h1.25M107 383h1.25M110 383h1.25M112 383h3.25M116 383h2.25M124 383h1.25M128 383h1.25M132 383h6.25M140 383h1.25M142 383h2.25M145 383h2.25M148 383h2.25M152 383h1.25M154 383h3.25M158 383h1.25M160 383h1.25M163 383h1.25M166 383h1.25M174 383h1.25M38 384h3.25M43 384h3.25M47 384h16.25M64 384h1.25M66 384h17.25M85 384h2.25M89 384h1.25M94 384h1.25M98 384h2.25M101 384h1.25M107 384h1.25M109 384h1.25M117 384h1.25M119 384h2.25M122 384h4.25M127 384h5.25M133 384h1.25M135 384h1.25M137 384h2.25M142 384h1.25M144 384h1.25M149 384h1.25M154 384h1.25M162 384h1.25M168 384h1.25M183 384h1.25M38 385h1.25M40 385h3.25M44 385h37.25M83 385h2.25M86 385h4.25M93 385h3.25M99 385h1.25M101 385h1.25M105 385h2.25M112 385h1.25M114 385h1.25M119 385h2.25M125 385h8.25M134 385h4.25M139 385h1.25M141 385h4.25M146 385h1.25M150 385h1.25M152 385h5.25M158 385h1.25M161 385h2.25M164 385h1.25M38 386h6.25M45 386h32.25M78 386h2.25M81 386h3.25M87 386h1.25M89 386h1.25M95 386h1.25M98 386h1.25M103 386h1.25M107 386h3.25M111 386h3.25M115 386h1.25M120 386h4.25M126 386h3.25M131 386h2.25M134 386h2.25M138 386h1.25M140 386h1.25M143 386h3.25M156 386h3.25M164 386h3.25M170 386h1.25M178 386h1.25M181 386h1.25M206 386h1.25M38 387h47.25M86 387h3.25M92 387h1.25M98 387h4.25M103 387h1.25M105 387h1.25M108 387h1.25M110 387h3.25M114 387h1.25M116 387h3.25M122 387h8.25M131 387h1.25M133 387h4.25M138 387h1.25M142 387h1.25M145 387h1.25M147 387h2.25M153 387h3.25M165 387h1.25M172 387h2.25M177 387h1.25M184 387h1.25M39 388h42.25M82 388h7.25M90 388h1.25M92 388h1.25M96 388h1.25M98 388h1.25M100 388h2.25M104 388h1.25M109 388h6.25M119 388h1.25M121 388h4.25M126 388h2.25M129 388h1.25M132 388h2.25M135 388h7.25M143 388h3.25M147 388h2.25M150 388h1.25M152 388h1.25M154 388h1.25M156 388h2.25M159 388h1.25M172 388h1.25M39 389h45.25M85 389h2.25M88 389h1.25M91 389h1.25M93 389h1.25M95 389h3.25M99 389h2.25M103 389h1.25M107 389h1.25M111 389h1.25M114 389h1.25M116 389h3.25M120 389h1.25M123 389h7.25M131 389h1.25M133 389h3.25M137 389h1.25M139 389h2.25M142 389h2.25M145 389h3.25M150 389h2.25M153 389h1.25M156 389h1.25M163 389h1.25M165 389h1.25M169 389h1.25M174 389h1.25M177 389h1.25M179 389h1.25M38 390h3.25M42 390h40.25M83 390h1.25M85 390h1.25M88 390h1.25M90 390h1.25M95 390h1.25M101 390h3.25M105 390h2.25M108 390h2.25M111 390h2.25M114 390h2.25M117 390h1.25M120 390h1.25M122 390h3.25M126 390h1.25M128 390h1.25M130 390h5.25M137 390h2.25M143 390h3.25M149 390h3.25M163 390h1.25M167 390h1.25M182 390h1.25M186 390h1.25M39 391h47.25M87 391h1.25M89 391h1.25M91 391h1.25M97 391h1.25M101 391h2.25M108 391h1.25M112 391h2.25M115 391h3.25M119 391h2.25M122 391h2.25M126 391h1.25M129 391h2.25M133 391h2.25M136 391h11.25M148 391h3.25M152 391h2.25M155 391h1.25M158 391h2.25M161 391h2.25M165 391h2.25M173 391h1.25M38 392h3.25M42 392h3.25M46 392h4.25M51 392h34.25M88 392h1.25M90 392h1.25M94 392h1.25M101 392h1.25M105 392h1.25M111 392h2.25M114 392h1.25M117 392h5.25M123 392h1.25M125 392h2.25M128 392h7.25M136 392h3.25M140 392h3.25M144 392h1.25M148 392h2.25M151 392h1.25M155 392h1.25M160 392h1.25M162 392h2.25M168 392h1.25M170 392h1.25M38 393h43.25M82 393h3.25M87 393h2.25M91 393h1.25M93 393h3.25M97 393h1.25M100 393h1.25M102 393h2.25M106 393h2.25M111 393h3.25M115 393h1.25M118 393h1.25M120 393h1.25M122 393h2.25M125 393h7.25M134 393h7.25M142 393h3.25M147 393h2.25M150 393h2.25M155 393h2.25M161 393h1.25M166 393h1.25M196 393h1.25M38 394h45.25M84 394h4.25M90 394h1.25M93 394h2.25M97 394h1.25M99 394h1.25M101 394h1.25M103 394h2.25M106 394h3.25M110 394h2.25M113 394h2.25M116 394h2.25M119 394h13.25M133 394h7.25M144 394h5.25M150 394h2.25M154 394h1.25M156 394h2.25M161 394h1.25M163 394h1.25M165 394h1.25M167 394h1.25M173 394h1.25M175 394h2.25M184 394h1.25M38 395h44.25M83 395h1.25M86 395h2.25M92 395h1.25M94 395h1.25M100 395h1.25M103 395h2.25M107 395h2.25M113 395h4.25M118 395h5.25M125 395h3.25M129 395h2.25M132 395h3.25M136 395h1.25M138 395h1.25M140 395h3.25M145 395h3.25M149 395h2.25M152 395h1.25M155 395h2.25M158 395h1.25M160 395h1.25M162 395h2.25M165 395h2.25M176 395h1.25M182 395h1.25M38 396h52.25M91 396h1.25M93 396h4.25M98 396h1.25M100 396h1.25M105 396h4.25M110 396h1.25M112 396h1.25M114 396h1.25M117 396h1.25M119 396h13.25M133 396h8.25M142 396h2.25M145 396h3.25M149 396h1.25M155 396h4.25M166 396h1.25M168 396h3.25M38 397h1.25M40 397h12.25M53 397h35.25M89 397h1.25M91 397h3.25M95 397h3.25M99 397h3.25M104 397h2.25M108 397h9.25M119 397h1.25M121 397h5.25M127 397h3.25M131 397h6.25M138 397h1.25M140 397h3.25M144 397h2.25M147 397h2.25M150 397h4.25M156 397h2.25M159 397h1.25M161 397h3.25M166 397h1.25M170 397h1.25M172 397h2.25M38 398h1.25M40 398h44.25M85 398h1.25M87 398h1.25M89 398h2.25M96 398h1.25M98 398h2.25M103 398h2.25M107 398h3.25M113 398h5.25M119 398h9.25M129 398h11.25M141 398h2.25M144 398h7.25M152 398h1.25M157 398h2.25M160 398h3.25M165 398h1.25M168 398h1.25M172 398h1.25M38 399h45.25M84 399h1.25M87 399h1.25M89 399h1.25M93 399h1.25M96 399h2.25M99 399h3.25M104 399h1.25M108 399h1.25M112 399h2.25M116 399h9.25M126 399h2.25M129 399h4.25M134 399h10.25M145 399h1.25M147 399h4.25M155 399h1.25M157 399h2.25M164 399h1.25M166 399h1.25M169 399h1.25M183 399h1.25M39 400h1.25M41 400h45.25M90 400h1.25M93 400h2.25M96 400h2.25M99 400h1.25M101 400h1.25M105 400h5.25M111 400h1.25M113 400h1.25M115 400h1.25M117 400h1.25M121 400h4.25M126 400h3.25M130 400h16.25M147 400h7.25M156 400h2.25M161 400h1.25M164 400h1.25M172 400h1.25M38 401h1.25M41 401h2.25M44 401h40.25M85 401h2.25M90 401h1.25M98 401h2.25M101 401h2.25M104 401h5.25M110 401h3.25M114 401h1.25M116 401h2.25M120 401h2.25M124 401h9.25M134 401h2.25M137 401h4.25M143 401h2.25M148 401h1.25M151 401h1.25M154 401h3.25M159 401h2.25M167 401h2.25M171 401h1.25M39 402h3.25M43 402h40.25M84 402h4.25M89 402h1.25M94 402h1.25M97 402h2.25M105 402h1.25M107 402h2.25M110 402h1.25M112 402h5.25M118 402h11.25M132 402h9.25M143 402h1.25M146 402h7.25M155 402h1.25M165 402h1.25M167 402h1.25M171 402h1.25M38 403h50.25M98 403h4.25M104 403h1.25M106 403h1.25M108 403h1.25M110 403h4.25M115 403h1.25M118 403h25.25M144 403h1.25M146 403h5.25M152 403h3.25M157 403h3.25M163 403h2.25M167 403h1.25M40 404h43.25M84 404h4.25M94 404h1.25M97 404h2.25M101 404h2.25M105 404h1.25M108 404h4.25M114 404h4.25M119 404h5.25M125 404h1.25M127 404h4.25M132 404h2.25M135 404h3.25M139 404h5.25M145 404h1.25M147 404h2.25M150 404h2.25M154 404h1.25M156 404h1.25M160 404h2.25M164 404h1.25M166 404h3.25M178 404h1.25M38 405h4.25M43 405h43.25M89 405h1.25M91 405h2.25M96 405h2.25M100 405h1.25M103 405h1.25M107 405h5.25M113 405h4.25M118 405h6.25M125 405h1.25M127 405h10.25M138 405h9.25M148 405h2.25M153 405h1.25M158 405h1.25M167 405h2.25M170 405h1.25M174 405h1.25M185 405h1.25M38 406h45.25M84 406h4.25M89 406h5.25M95 406h1.25M97 406h3.25M102 406h6.25M110 406h1.25M112 406h1.25M114 406h3.25M118 406h8.25M127 406h4.25M132 406h1.25M134 406h5.25M140 406h9.25M150 406h1.25M152 406h2.25M155 406h1.25M157 406h1.25M159 406h5.25M169 406h2.25M177 406h1.25M38 407h2.25M41 407h4.25M46 407h39.25M86 407h2.25M89 407h1.25M91 407h2.25M98 407h3.25M102 407h1.25M104 407h1.25M107 407h4.25M112 407h1.25M114 407h5.25M120 407h1.25M122 407h1.25M124 407h2.25M127 407h2.25M130 407h6.25M137 407h4.25M142 407h12.25M155 407h3.25M160 407h1.25M165 407h2.25M170 407h1.25M176 407h1.25M179 407h1.25M38 408h26.25M65 408h19.25M85 408h1.25M87 408h1.25M89 408h2.25M97 408h1.25M100 408h2.25M103 408h1.25M105 408h3.25M109 408h7.25M118 408h1.25M121 408h4.25M126 408h11.25M139 408h1.25M141 408h6.25M148 408h1.25M150 408h1.25M152 408h1.25M154 408h2.25M157 408h1.25M160 408h1.25M165 408h1.25M184 408h1.25M38 409h48.25M87 409h1.25M93 409h1.25M98 409h8.25M108 409h8.25M117 409h11.25M129 409h8.25M138 409h6.25M145 409h12.25M159 409h1.25M161 409h1.25M163 409h1.25M168 409h1.25M170 409h1.25M184 409h1.25M38 410h46.25M85 410h1.25M89 410h2.25M94 410h2.25M99 410h3.25M103 410h2.25M106 410h1.25M109 410h1.25M114 410h5.25M121 410h7.25M129 410h1.25M132 410h4.25M137 410h3.25M141 410h4.25M147 410h3.25M151 410h3.25M156 410h1.25M186 410h1.25M38 411h4.25M43 411h24.25M68 411h18.25M88 411h3.25M93 411h2.25M97 411h1.25M99 411h2.25M102 411h3.25M106 411h2.25M111 411h1.25M113 411h1.25M115 411h6.25M122 411h9.25M132 411h3.25M136 411h4.25M141 411h7.25M149 411h2.25M154 411h3.25M158 411h1.25M166 411h1.25M175 411h1.25M177 411h1.25M39 412h48.25M88 412h5.25M98 412h2.25M101 412h1.25M108 412h4.25M113 412h11.25M125 412h11.25M137 412h10.25M148 412h1.25M151 412h1.25M153 412h1.25M155 412h1.25M162 412h3.25M183 412h1.25M38 413h47.25M89 413h2.25M92 413h2.25M97 413h1.25M99 413h3.25M104 413h1.25M106 413h1.25M108 413h2.25M113 413h1.25M115 413h3.25M121 413h2.25M124 413h10.25M135 413h1.25M137 413h1.25M139 413h9.25M151 413h3.25M156 413h3.25M160 413h1.25M164 413h1.25M38 414h41.25M80 414h5.25M88 414h1.25M92 414h1.25M95 414h1.25M101 414h1.25M103 414h1.25M105 414h1.25M107 414h1.25M110 414h1.25M112 414h1.25M114 414h1.25M116 414h5.25M123 414h1.25M126 414h3.25M130 414h3.25M134 414h2.25M137 414h1.25M140 414h1.25M142 414h2.25M145 414h6.25M152 414h2.25M156 414h1.25M160 414h1.25M162 414h1.25M38 415h1.25M40 415h46.25M87 415h3.25M93 415h1.25M96 415h1.25M98 415h2.25M103 415h1.25M107 415h1.25M109 415h1.25M112 415h1.25M117 415h3.25M121 415h4.25M127 415h5.25M133 415h1.25M135 415h1.25M137 415h2.25M140 415h6.25M149 415h1.25M152 415h1.25M157 415h3.25M172 415h1.25M175 415h1.25M184 415h1.25M39 416h1.25M41 416h45.25M88 416h1.25M90 416h2.25M96 416h1.25M98 416h1.25M100 416h2.25M104 416h2.25M107 416h1.25M109 416h2.25M112 416h2.25M116 416h3.25M120 416h4.25M125 416h4.25M130 416h2.25M134 416h10.25M145 416h1.25M148 416h1.25M151 416h2.25M156 416h1.25M159 416h1.25M164 416h1.25M38 417h1.25M40 417h11.25M52 417h33.25M87 417h3.25M94 417h1.25M96 417h3.25M100 417h1.25M103 417h1.25M105 417h2.25M115 417h1.25M117 417h2.25M121 417h2.25M124 417h1.25M126 417h4.25M133 417h1.25M135 417h2.25M138 417h2.25M141 417h2.25M144 417h1.25M148 417h1.25M151 417h1.25M153 417h2.25M156 417h1.25M159 417h3.25M163 417h1.25M186 417h1.25M189 417h1.25M38 418h33.25M72 418h13.25M86 418h1.25M88 418h1.25M90 418h3.25M98 418h1.25M100 418h1.25M107 418h5.25M113 418h1.25M115 418h5.25M121 418h5.25M127 418h1.25M129 418h5.25M136 418h4.25M142 418h3.25M146 418h2.25M152 418h2.25M156 418h1.25M159 418h1.25M165 418h1.25M38 419h35.25M74 419h8.25M83 419h4.25M89 419h2.25M93 419h1.25M100 419h3.25M107 419h1.25M109 419h1.25M113 419h5.25M119 419h1.25M121 419h1.25M125 419h1.25M127 419h2.25M131 419h2.25M134 419h1.25M136 419h1.25M138 419h1.25M140 419h2.25M146 419h1.25M149 419h1.25M151 419h1.25M175 419h1.25M39 420h5.25M45 420h23.25M69 420h20.25M91 420h2.25M97 420h2.25M101 420h2.25M107 420h2.25M111 420h1.25M114 420h1.25M116 420h1.25M119 420h1.25M121 420h6.25M129 420h1.25M131 420h4.25M137 420h1.25M139 420h3.25M145 420h1.25M147 420h2.25M152 420h2.25M156 420h1.25M158 420h2.25M182 420h1.25M189 420h1.25M38 421h47.25M86 421h4.25M94 421h1.25M97 421h4.25M103 421h2.25M106 421h3.25M111 421h1.25M114 421h1.25M116 421h2.25M119 421h2.25M122 421h1.25M126 421h1.25M129 421h5.25M135 421h1.25M140 421h6.25M148 421h1.25M151 421h4.25M157 421h1.25M163 421h2.25M174 421h1.25M38 422h1.25M40 422h4.25M45 422h5.25M51 422h11.25M63 422h23.25M87 422h3.25M91 422h2.25M96 422h3.25M102 422h2.25M108 422h2.25M111 422h1.25M116 422h1.25M118 422h1.25M124 422h2.25M127 422h2.25M130 422h1.25M134 422h1.25M138 422h2.25M141 422h4.25M146 422h1.25M148 422h2.25M151 422h3.25M159 422h1.25M168 422h1.25M38 423h5.25M44 423h2.25M48 423h5.25M54 423h3.25M58 423h21.25M80 423h5.25M86 423h1.25M88 423h2.25M93 423h1.25M96 423h2.25M100 423h1.25M102 423h1.25M111 423h1.25M113 423h1.25M116 423h2.25M119 423h5.25M127 423h4.25M132 423h1.25M134 423h2.25M137 423h1.25M139 423h2.25M148 423h1.25M150 423h1.25M157 423h1.25M160 423h1.25M169 423h1.25M180 423h1.25M38 424h23.25M62 424h22.25M85 424h1.25M90 424h1.25M95 424h2.25M99 424h1.25M101 424h1.25M109 424h1.25M111 424h1.25M113 424h1.25M119 424h1.25M121 424h1.25M123 424h2.25M128 424h1.25M138 424h4.25M143 424h1.25M149 424h1.25M151 424h1.25M159 424h1.25M38 425h11.25M50 425h12.25M63 425h22.25M89 425h1.25M91 425h1.25M95 425h1.25M97 425h1.25M100 425h1.25M110 425h1.25M117 425h1.25M119 425h2.25M122 425h1.25M127 425h1.25M131 425h1.25M133 425h1.25M136 425h1.25M138 425h3.25M144 425h1.25M146 425h2.25M152 425h1.25M154 425h1.25M158 425h1.25M169 425h1.25M38 426h23.25M62 426h22.25M85 426h4.25M93 426h1.25M97 426h1.25M101 426h1.25M105 426h1.25M113 426h1.25M115 426h1.25M117 426h1.25M119 426h1.25M125 426h1.25M129 426h1.25M133 426h1.25M137 426h1.25M146 426h1.25M149 426h1.25M156 426h1.25M170 426h1.25M173 426h1.25M183 426h1.25M38 427h4.25M43 427h1.25M45 427h8.25M54 427h3.25M58 427h11.25M70 427h9.25M80 427h3.25M87 427h1.25M108 427h2.25M114 427h1.25M119 427h3.25M134 427h1.25M136 427h1.25M139 427h3.25M148 427h2.25M159 427h1.25M170 427h1.25M40 428h7.25M51 428h15.25M67 428h17.25M85 428h3.25M90 428h1.25M95 428h3.25M99 428h1.25M101 428h1.25M107 428h1.25M110 428h1.25M116 428h1.25M120 428h1.25M123 428h1.25M126 428h1.25M128 428h1.25M130 428h2.25M135 428h1.25M141 428h1.25M150 428h1.25M154 428h2.25M162 428h1.25M164 428h1.25" stroke="#000" stroke-width="1.25" fill="none" filter="url(#soft)" transform="translate(-0.12,0.5)"/><path d="M37.5 7V178.8H208" fill="none" stroke="#000" stroke-width="1.4"/><path d="M37.5 7.4H208" fill="none" stroke="#111" stroke-width="0.8"/><path d="M207.6 7V178.8" fill="none" stroke="#222" stroke-width="0.8"/><path d="M50.3 178.8v1.6M37.5 165.9h-1.4M57.8 178.8v1.6M37.5 158.3h-1.4M63.2 178.8v1.6M37.5 152.9h-1.4M67.3 178.8v1.6M37.5 148.8h-1.4M70.7 178.8v1.6M37.5 145.4h-1.4M73.5 178.8v1.6M37.5 142.5h-1.4M76.0 178.8v1.6M37.5 140.0h-1.4M78.2 178.8v1.6M37.5 137.8h-1.4M93.0 178.8v1.6M37.5 122.9h-1.4M100.5 178.8v1.6M37.5 115.4h-1.4M105.8 178.8v1.6M37.5 110.0h-1.4M109.9 178.8v1.6M37.5 105.8h-1.4M113.3 178.8v1.6M37.5 102.4h-1.4M116.1 178.8v1.6M37.5 99.6h-1.4M118.6 178.8v1.6M37.5 97.1h-1.4M120.8 178.8v1.6M37.5 94.9h-1.4M135.6 178.8v1.6M37.5 80.0h-1.4M143.1 178.8v1.6M37.5 72.4h-1.4M148.4 178.8v1.6M37.5 67.0h-1.4M152.5 178.8v1.6M37.5 62.9h-1.4M155.9 178.8v1.6M37.5 59.5h-1.4M158.8 178.8v1.6M37.5 56.6h-1.4M161.2 178.8v1.6M37.5 54.1h-1.4M163.4 178.8v1.6M37.5 51.9h-1.4M178.2 178.8v1.6M37.5 37.0h-1.4M185.7 178.8v1.6M37.5 29.5h-1.4M191.0 178.8v1.6M37.5 24.1h-1.4M195.2 178.8v1.6M37.5 19.9h-1.4M198.5 178.8v1.6M37.5 16.5h-1.4M201.4 178.8v1.6M37.5 13.7h-1.4M203.9 178.8v1.6M37.5 11.2h-1.4M206.0 178.8v1.6M37.5 9.0h-1.4M37.5 178.8v2.2M37.5 178.8h-2M80.1 178.8v2.2M37.5 135.9h-2M122.8 178.8v2.2M37.5 92.9h-2M165.4 178.8v2.2M37.5 49.9h-2M208.0 178.8v2.2M37.5 7.0h-2" stroke="#000" stroke-width="0.7" fill="none"/><text x="35.2" y="186.4" font-size="6" stroke-width="0.3">10<tspan dy="-2.2" font-size="3.8">0</tspan></text><text transform="translate(34.9,181.6) rotate(-90)" font-size="5.8" stroke-width="0.3">10<tspan dy="-2.2" font-size="3.8">0</tspan></text><text x="77.8" y="186.4" font-size="6" stroke-width="0.3">10<tspan dy="-2.2" font-size="3.8">1</tspan></text><text transform="translate(34.9,138.7) rotate(-90)" font-size="5.8" stroke-width="0.3">10<tspan dy="-2.2" font-size="3.8">1</tspan></text><text x="120.5" y="186.4" font-size="6" stroke-width="0.3">10<tspan dy="-2.2" font-size="3.8">2</tspan></text><text transform="translate(34.9,95.7) rotate(-90)" font-size="5.8" stroke-width="0.3">10<tspan dy="-2.2" font-size="3.8">2</tspan></text><text x="163.1" y="186.4" font-size="6" stroke-width="0.3">10<tspan dy="-2.2" font-size="3.8">3</tspan></text><text transform="translate(34.9,52.7) rotate(-90)" font-size="5.8" stroke-width="0.3">10<tspan dy="-2.2" font-size="3.8">3</tspan></text><text x="205.7" y="186.4" font-size="6" stroke-width="0.3">10<tspan dy="-2.2" font-size="3.8">4</tspan></text><text transform="translate(34.9,9.8) rotate(-90)" font-size="5.8" stroke-width="0.3">10<tspan dy="-2.2" font-size="3.8">4</tspan></text><rect x="96" y="74.8" width="83.30000000000001" height="54.000000000000014" fill="none" stroke="#000" stroke-width="1.3"/><rect x="166.5" y="132.3" width="38.69999999999999" height="44.0" fill="none" stroke="#000" stroke-width="1.3"/><text x="67.8" y="84.9" font-size="10">naive</text><text x="123.3" y="170" font-size="10.3">memory</text><text x="1.7" y="20.5" font-size="28.3" font-weight="bold">A</text><text transform="translate(13.8,85.5) rotate(-90)" font-size="16.2" text-anchor="middle">IgD</text><text transform="translate(127.5,212.5) scale(0.93,1)" font-size="17.6" text-anchor="middle">IgM</text><path d="M37.2 259.2V429H208" fill="none" stroke="#000" stroke-width="1.4"/><path d="M37.2 259.59999999999997H208" fill="none" stroke="#111" stroke-width="0.8"/><path d="M207.6 259.2V429" fill="none" stroke="#444" stroke-width="0.8"/><path d="M50.1 429v1.6M37.2 416.2h-1.4M57.6 429v1.6M37.2 408.7h-1.4M62.9 429v1.6M37.2 403.4h-1.4M67.0 429v1.6M37.2 399.3h-1.4M70.4 429v1.6M37.2 396.0h-1.4M73.3 429v1.6M37.2 393.1h-1.4M75.8 429v1.6M37.2 390.7h-1.4M77.9 429v1.6M37.2 388.5h-1.4M92.8 429v1.6M37.2 373.8h-1.4M100.3 429v1.6M37.2 366.3h-1.4M105.6 429v1.6M37.2 361.0h-1.4M109.7 429v1.6M37.2 356.9h-1.4M113.1 429v1.6M37.2 353.5h-1.4M116.0 429v1.6M37.2 350.7h-1.4M118.5 429v1.6M37.2 348.2h-1.4M120.6 429v1.6M37.2 346.0h-1.4M135.5 429v1.6M37.2 331.3h-1.4M143.0 429v1.6M37.2 323.8h-1.4M148.3 429v1.6M37.2 318.5h-1.4M152.4 429v1.6M37.2 314.4h-1.4M155.8 429v1.6M37.2 311.1h-1.4M158.7 429v1.6M37.2 308.2h-1.4M161.2 429v1.6M37.2 305.8h-1.4M163.3 429v1.6M37.2 303.6h-1.4M178.2 429v1.6M37.2 288.9h-1.4M185.7 429v1.6M37.2 281.4h-1.4M191.0 429v1.6M37.2 276.1h-1.4M195.1 429v1.6M37.2 272.0h-1.4M198.5 429v1.6M37.2 268.6h-1.4M201.4 429v1.6M37.2 265.8h-1.4M203.9 429v1.6M37.2 263.3h-1.4M206.0 429v1.6M37.2 261.1h-1.4M37.2 429v2.2M37.2 429.0h-2M79.9 429v2.2M37.2 386.6h-2M122.6 429v2.2M37.2 344.1h-2M165.3 429v2.2M37.2 301.6h-2M208.0 429v2.2M37.2 259.2h-2" stroke="#000" stroke-width="0.7" fill="none"/><text x="34.9" y="436.6" font-size="6" stroke-width="0.3">10<tspan dy="-2.2" font-size="3.8">0</tspan></text><text transform="translate(34.6,431.8) rotate(-90)" font-size="5.8" stroke-width="0.3">10<tspan dy="-2.2" font-size="3.8">0</tspan></text><text x="77.6" y="436.6" font-size="6" stroke-width="0.3">10<tspan dy="-2.2" font-size="3.8">1</tspan></text><text transform="translate(34.6,389.4) rotate(-90)" font-size="5.8" stroke-width="0.3">10<tspan dy="-2.2" font-size="3.8">1</tspan></text><text x="120.3" y="436.6" font-size="6" stroke-width="0.3">10<tspan dy="-2.2" font-size="3.8">2</tspan></text><text transform="translate(34.6,346.9) rotate(-90)" font-size="5.8" stroke-width="0.3">10<tspan dy="-2.2" font-size="3.8">2</tspan></text><text x="163.0" y="436.6" font-size="6" stroke-width="0.3">10<tspan dy="-2.2" font-size="3.8">3</tspan></text><text transform="translate(34.6,304.4) rotate(-90)" font-size="5.8" stroke-width="0.3">10<tspan dy="-2.2" font-size="3.8">3</tspan></text><text x="205.7" y="436.6" font-size="6" stroke-width="0.3">10<tspan dy="-2.2" font-size="3.8">4</tspan></text><text transform="translate(34.6,262.0) rotate(-90)" font-size="5.8" stroke-width="0.3">10<tspan dy="-2.2" font-size="3.8">4</tspan></text><rect x="109.5" y="323.8" width="51.0" height="53.0" fill="none" stroke="#000" stroke-width="1.3"/><rect x="162.5" y="323.8" width="36.5" height="51.5" fill="none" stroke="#000" stroke-width="1.3"/><rect x="109.5" y="380" width="50.80000000000001" height="49" fill="none" stroke="#000" stroke-width="1.3"/><rect x="162" y="380" width="31.400000000000006" height="48" fill="none" stroke="#000" stroke-width="1.3"/><text x="134.5" y="318.5" font-size="10">ERF</text><text x="178.3" y="318.5" font-size="10">NF</text><text x="137.3" y="439.6" font-size="10.5">RF</text><text x="177.5" y="439.6" font-size="10.5">MZ</text><text x="0.3" y="266.6" font-size="28" font-weight="bold">B</text><text transform="translate(17.5,344.5) rotate(-90)" font-size="17" text-anchor="middle">CD90</text><text x="123.5" y="463.2" font-size="16" text-anchor="middle">IgM</text><path d="M292.4 10.5V180.8H462" fill="none" stroke="#000" stroke-width="1.3"/><text x="285.2" y="184.7" font-size="11" text-anchor="end">0</text><text x="285.2" y="160.4" font-size="11" text-anchor="end">500</text><text x="285.2" y="136.0" font-size="11" text-anchor="end">1000</text><text x="285.2" y="111.7" font-size="11" text-anchor="end">1500</text><text x="285.2" y="87.4" font-size="11" text-anchor="end">2000</text><text x="285.2" y="63.1" font-size="11" text-anchor="end">2500</text><text x="285.2" y="38.7" font-size="11" text-anchor="end">3000</text><text x="285.2" y="14.4" font-size="11" text-anchor="end">3500</text><path d="M292.4 180.8h-3.3M292.4 156.5h-3.3M292.4 132.1h-3.3M292.4 107.8h-3.3M292.4 83.5h-3.3M292.4 59.2h-3.3M292.4 34.8h-3.3M292.4 10.5h-3.3" stroke="#000" stroke-width="1" fill="none"/><path d="M340.8 96.6V88.6M338.1 88.6h5.2" stroke="#000" stroke-width="1.3" fill="none"/><rect x="335" y="96.6" width="11.5" height="84.2" fill="#fff" stroke="#000" stroke-width="1.2"/><path d="M358.0 50.2V31.4M355.4 31.4h5.2" stroke="#000" stroke-width="1.3" fill="none"/><rect x="352.3" y="50.2" width="11.4" height="130.6" fill="#000" stroke="#000" stroke-width="1.2"/><path d="M396.9 172.5V169.8M394.3 169.8h5.2" stroke="#000" stroke-width="1.3" fill="none"/><rect x="391" y="172.5" width="11.8" height="8.3" fill="#fff" stroke="#000" stroke-width="1.2"/><path d="M414.4 165V157.7M411.8 157.7h5.2" stroke="#000" stroke-width="1.3" fill="none"/><rect x="408.4" y="165" width="11.9" height="15.8" fill="#000" stroke="#000" stroke-width="1.2"/><text x="357.8" y="31.5" font-size="17" font-weight="bold" text-anchor="middle">*</text><text x="414" y="155.5" font-size="17" font-weight="bold" text-anchor="middle">*</text><text x="349" y="197.6" font-size="10.5" text-anchor="middle">naive</text><text x="405" y="197.6" font-size="10.5" text-anchor="middle">memory</text><text x="377.8" y="217.8" font-size="15" letter-spacing="0.2" text-anchor="middle">B cell subsets</text><text transform="translate(250.3,92.5) rotate(-90)" font-size="11" text-anchor="middle">number of cells in blood per µL</text><rect x="420.7" y="48.3" width="22.8" height="3.7" fill="#fff" stroke="#000" stroke-width="1"/><rect x="420.7" y="61" width="22.8" height="3.6" fill="#000" stroke="#000" stroke-width="1"/><text x="449.6" y="53.2" font-size="10">control</text><text x="449.6" y="66" font-size="10">splenectomized</text><path d="M292.4 251.7V426.4H463" fill="none" stroke="#000" stroke-width="1.3"/><text x="285.2" y="430.3" font-size="11" text-anchor="end">0</text><text x="285.2" y="395.4" font-size="11" text-anchor="end">500</text><text x="285.2" y="360.4" font-size="11" text-anchor="end">1000</text><text x="285.2" y="325.5" font-size="11" text-anchor="end">1500</text><text x="285.2" y="290.5" font-size="11" text-anchor="end">2000</text><text x="285.2" y="255.6" font-size="11" text-anchor="end">2500</text><path d="M292.4 426.4h-3.3M292.4 391.5h-3.3M292.4 356.5h-3.3M292.4 321.6h-3.3M292.4 286.6h-3.3M292.4 251.7h-3.3" stroke="#000" stroke-width="1" fill="none"/><path d="M321.2 414V410.9M318.6 410.9h5.2" stroke="#000" stroke-width="1.3" fill="none"/><rect x="317" y="414" width="8.5" height="12.4" fill="#fff" stroke="#000" stroke-width="1.2"/><path d="M332.6 400.2V393.7M330.0 393.7h5.2" stroke="#000" stroke-width="1.3" fill="none"/><rect x="328.4" y="400.2" width="8.5" height="26.2" fill="#000" stroke="#000" stroke-width="1.2"/><path d="M355.1 406.3V403.2M352.5 403.2h5.2" stroke="#000" stroke-width="1.3" fill="none"/><rect x="350.8" y="406.3" width="8.6" height="20.1" fill="#fff" stroke="#000" stroke-width="1.2"/><path d="M366.5 392.5V383.8M363.9 383.8h5.2" stroke="#000" stroke-width="1.3" fill="none"/><rect x="362.2" y="392.5" width="8.6" height="33.9" fill="#000" stroke="#000" stroke-width="1.2"/><path d="M388.9 340V330.8M386.3 330.8h5.2" stroke="#000" stroke-width="1.3" fill="none"/><rect x="384.6" y="340" width="8.6" height="86.4" fill="#fff" stroke="#000" stroke-width="1.2"/><path d="M400.8 303.1V280.9M398.2 280.9h5.2" stroke="#000" stroke-width="1.3" fill="none"/><rect x="396.4" y="303.1" width="8.8" height="123.3" fill="#000" stroke="#000" stroke-width="1.2"/><path d="M422.8 408.5V404.8M420.2 404.8h5.2" stroke="#000" stroke-width="1.3" fill="none"/><rect x="418.5" y="408.5" width="8.6" height="17.9" fill="#fff" stroke="#000" stroke-width="1.2"/><path d="M434.4 394.6V379.8M431.8 379.8h5.2" stroke="#000" stroke-width="1.3" fill="none"/><rect x="429.9" y="394.6" width="8.9" height="31.8" fill="#000" stroke="#000" stroke-width="1.2"/><text x="332.3" y="390.9" font-size="17" font-weight="bold" text-anchor="middle">*</text><text x="366.2" y="382.2" font-size="17" font-weight="bold" text-anchor="middle">*</text><text x="400" y="280.0" font-size="17" font-weight="bold" text-anchor="middle">*</text><text x="433.8" y="379.8" font-size="17" font-weight="bold" text-anchor="middle">*</text><text x="326" y="442.8" font-size="10.5" text-anchor="middle">NF</text><text x="361" y="442.8" font-size="10.5" text-anchor="middle">ERF</text><text x="393.5" y="442.8" font-size="10.5" text-anchor="middle">RF</text><text x="428.8" y="442.8" font-size="10.5" text-anchor="middle">MZ</text><text x="377.8" y="467" font-size="15" letter-spacing="0.2" text-anchor="middle">B cell subsets</text><text transform="translate(250.3,338.5) rotate(-90)" font-size="11" text-anchor="middle">number of cells in blood per µL</text><rect x="421" y="290.6" width="22.8" height="4.1" fill="#fff" stroke="#000" stroke-width="1"/><rect x="421" y="303.2" width="22.8" height="4.5" fill="#000" stroke="#000" stroke-width="1"/><text x="449.4" y="296.3" font-size="10">control</text><text x="449.4" y="309.2" font-size="10">splenectomized</text></svg>
</body></html>
